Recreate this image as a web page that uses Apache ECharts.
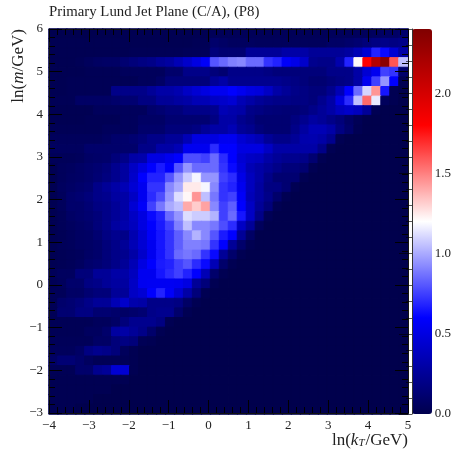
<!DOCTYPE html>
<html><head><meta charset="utf-8">
<script src="https://cdn.jsdelivr.net/npm/echarts@6/dist/echarts.min.js"></script>
<style>html,body{margin:0;padding:0;background:#fff}#c{width:454px;height:449px}</style>
</head><body><div id="c"></div>
<script>
var titleText = "Primary Lund Jet Plane (C/A), (P8)";
var xTicks = [-4,-3,-2,-1,0,1,2,3,4,5];
var yTicks = [-3,-2,-1,0,1,2,3,4,5,6];
var nBins = 40;
// density per bin, top row (ln m = 6) first, left column (ln kT = -4) first; bins past a row's end are empty
var rows = [
[.01,.01,.01,.01,.01,.01,.01,.01,.02,.02,.02,.02,.02,.02,.02,.02,.02,.02,.04,.04,.04,.04,.04,.04,.04,.04,.04,.04,.04,.04,.04,.05,.05,.05,.05,.05,.06,.08,.08,.1],
[.02,.02,.02,.02,.02,.02,.02,.02,.02,.02,.02,.02,.02,.02,.02,.02,.03,.03,.1,.08,.06,.06,.06,.05,.05,.05,.05,.05,.05,.05,.05,.08,.08,.1,.12,.15,.18,.2,.18,.2],
[.02,.02,.02,.02,.02,.02,.02,.02,.02,.03,.03,.03,.03,.03,.03,.04,.04,.04,.15,.12,.12,.12,.25,.25,.25,.25,.3,.3,.3,.25,.25,.25,.25,.28,.35,.45,.68,.62,.45,.3],
[.02,.02,.02,.03,.05,.07,.08,.08,.12,.15,.18,.2,.25,.28,.35,.42,.5,.58,.8,.85,.9,.92,.85,.85,.72,.68,.58,.52,.42,.22,.2,.2,.32,.68,1.22,1.8,2.15,2.35,1.6,1.05],
[.02,.02,.02,.02,.03,.03,.03,.03,.05,.05,.05,.05,.05,.1,.1,.2,.2,.2,.15,.12,.2,.2,.2,.2,.18,.15,.15,.15,.15,.15,.15,.2,.2,.2,.3,.45,.55,.75,.72,.1],
[.02,.02,.03,.03,.03,.03,.03,.03,.03,.03,.05,.05,.08,.15,.15,.15,.15,.15,.25,.3,.22,.22,.22,.22,.22,.22,.2,.18,.15,.12,.12,.15,.18,.2,.3,.55,.75,.95,.6,.02],
[.02,.02,.03,.03,.03,.03,.03,.2,.2,.2,.2,.25,.3,.3,.33,.4,.45,.5,.55,.55,.6,.55,.5,.48,.4,.3,.25,.2,.18,.15,.15,.22,.35,.6,.85,1.1,1.45,.65,.02],
[.03,.03,.03,.08,.08,.08,.08,.1,.12,.12,.18,.18,.25,.25,.28,.3,.35,.35,.4,.42,.45,.35,.3,.25,.22,.2,.2,.18,.18,.15,.22,.3,.5,.7,1.05,1.55,1.15,.05,.02],
[.02,.02,.02,.02,.02,.05,.05,.05,.05,.05,.05,.1,.12,.15,.15,.2,.2,.2,.22,.35,.32,.3,.2,.18,.15,.14,.13,.13,.15,.2,.25,.3,.38,.42,.38,.25,.02],
[.02,.02,.02,.02,.03,.03,.03,.03,.05,.05,.08,.08,.08,.12,.12,.12,.12,.12,.18,.3,.3,.22,.18,.12,.12,.12,.12,.17,.22,.28,.25,.2,.15,.08,.03],
[.03,.03,.03,.03,.03,.03,.05,.05,.05,.05,.1,.1,.1,.15,.15,.15,.18,.25,.3,.3,.35,.25,.22,.15,.12,.12,.12,.2,.28,.35,.35,.3,.18,.1,.02],
[.05,.05,.05,.05,.05,.05,.07,.1,.1,.12,.15,.2,.2,.25,.25,.35,.5,.5,.5,.55,.55,.45,.4,.35,.25,.2,.2,.25,.32,.33,.3,.22,.02],
[.06,.06,.06,.06,.1,.1,.1,.1,.1,.1,.2,.2,.3,.3,.35,.55,.55,.55,.7,.6,.6,.5,.5,.5,.4,.3,.3,.3,.3,.3,.2,.02],
[.04,.04,.04,.05,.08,.09,.1,.15,.2,.3,.32,.5,.5,.55,.6,.78,.78,.75,.85,.7,.6,.45,.4,.38,.3,.25,.22,.22,.2,.12,.02],
[.02,.05,.06,.08,.1,.12,.15,.22,.28,.4,.5,.6,.66,.6,.8,.95,.85,.85,.85,.72,.62,.48,.35,.3,.25,.2,.15,.15,.12,.02],
[.02,.05,.07,.08,.1,.13,.17,.22,.28,.42,.6,.68,.68,.8,.95,1.08,1.18,.95,.95,.75,.7,.52,.38,.3,.2,.12,.12,.12,.02],
[.02,.06,.08,.1,.12,.2,.25,.3,.35,.45,.55,.72,.72,.92,1.0,1.25,1.25,1.18,.92,.72,.68,.55,.38,.28,.18,.18,.12,.02],
[.02,.05,.1,.12,.15,.2,.22,.28,.3,.4,.55,.7,.78,.95,1.12,1.22,1.45,1.05,.88,.72,.75,.58,.36,.28,.2,.1,.02],
[.02,.05,.1,.1,.13,.18,.2,.25,.3,.45,.58,.75,.88,1.0,1.05,1.4,1.32,1.42,.92,.75,.82,.6,.4,.25,.15,.02],
[.02,.04,.08,.1,.12,.15,.2,.25,.3,.4,.5,.62,.68,.85,.95,1.12,1.08,1.08,1.02,.75,.85,.65,.4,.2,.03],
[.02,.04,.06,.08,.1,.15,.2,.28,.32,.38,.5,.6,.66,.75,.9,1.05,.92,.92,.88,.78,.7,.4,.25,.05],
[.02,.03,.05,.07,.08,.12,.18,.22,.2,.33,.45,.58,.65,.72,.82,.92,1.02,.92,.8,.66,.6,.25,.08],
[.02,.04,.05,.07,.08,.1,.15,.2,.25,.35,.45,.55,.65,.72,.82,.9,.9,.88,.72,.6,.25,.1,.02],
[.02,.03,.04,.05,.08,.1,.15,.2,.22,.3,.42,.55,.65,.72,.85,.88,.85,.72,.62,.25,.1,.02],
[.02,.03,.04,.06,.1,.12,.15,.2,.25,.35,.5,.6,.66,.68,.75,.8,.7,.62,.35,.1,.02],
[.04,.06,.06,.15,.15,.25,.25,.3,.3,.38,.55,.55,.65,.7,.75,.68,.6,.35,.1,.02],
[.03,.05,.1,.1,.18,.2,.25,.28,.28,.4,.55,.56,.56,.56,.55,.5,.25,.15,.02],
[.04,.04,.08,.08,.12,.15,.15,.25,.25,.4,.45,.6,.68,.58,.45,.3,.15,.02],
[.03,.1,.12,.15,.2,.25,.25,.35,.42,.32,.3,.2,.2,.2,.18,.08,.02],
[.03,.12,.12,.18,.18,.12,.12,.1,.08,.1,.12,.2,.22,.22,.1,.02],
[.03,.03,.03,.03,.03,.05,.05,.08,.15,.22,.22,.22,.18,.02],
[.03,.03,.03,.03,.06,.06,.1,.28,.3,.25,.2,.1,.02],
[.04,.04,.04,.04,.04,.08,.08,.15,.18,.15,.03,.02],
[.05,.05,.05,.08,.18,.22,.2,.15,.05,.02],
[.08,.13,.13,.1,.06,.03,.03,.03,.03,.02],
[.03,.03,.03,.1,.1,.22,.25,.45,.45,.02],
[.02,.02,.02,.02,.02,.02,.02,.02,.02],
[.02,.02,.02,.02,.02,.02,.02],
[.02,.02,.02,.02,.02],
[.02,.02,.02]
];
var seismic = ['#00004d','#0000ff','#ffffff','#ff0000','#800000'];
var vMax = 2.4;
var serif = '"Liberation Serif","DejaVu Serif",serif';
var ink = '#222';
var G = {left:49, top:29, width:359, height:385};

// Seam-free cells: each cell's border takes the colour the colour scale gives its value
var lerp = echarts.color.lerp;
var bins = [];
for (var i=0;i<nBins;i++) bins.push(String(i));
var cells = [];
rows.forEach(function(r,j){
  for (var i=0;i<nBins;i++){
    var v = r[i]===undefined?0:r[i];
    cells.push({value:[i, nBins-1-j, v], itemStyle:{borderWidth:1,borderColor:lerp(Math.min(v/vMax,1),seismic)}});
  }
});
function fmt(v){ return String(v).replace('-','\u2212'); }
function valAxis(pos, ticks, labelled, extra){
  var o = {
    type:'value', position:pos, min:ticks[0], max:ticks[ticks.length-1], interval:1,
    gridIndex:1, z:5, silent:true,
    splitLine:{show:false},
    axisLine:{show:true,onZero:false,lineStyle:{color:'#111',width:1}},
    axisTick:{show:true,inside:true,length:13,lineStyle:{color:'#000',width:1}},
    minorTick:{show:true,splitNumber:5,length:6,lineStyle:{color:'#000',width:1}},
    axisLabel:{show:labelled,formatter:fmt,fontFamily:serif,fontSize:13,color:ink,margin:6,hideOverlap:false}
  };
  for (var k in extra) o[k]=extra[k];
  return o;
}
var chart = echarts.init(document.getElementById('c'),null,{renderer:'canvas'});
chart.setOption({
  animation:false,
  backgroundColor:'#fff',
  title:{text:titleText,left:49,top:5,padding:0,textStyle:{fontFamily:serif,fontSize:14.8,fontWeight:'normal',color:ink}},
  grid:[
    Object.assign({show:false},G),
    Object.assign({show:false},G),
    {show:false,left:412,top:29,width:20,height:385}
  ],
  xAxis:[
    {type:'category',data:bins,gridIndex:0,show:false},
    valAxis('bottom',xTicks,true,{
      name:'{n|ln(}{i|k}{s|T}{n|/GeV)}',nameLocation:'end',nameGap:0,
      nameTextStyle:{align:'right',verticalAlign:'top',padding:[19,0,0,0],rich:{
        n:{fontFamily:serif,fontSize:17,color:ink},
        i:{fontFamily:serif,fontSize:17,fontStyle:'italic',color:ink},
        s:{fontFamily:serif,fontSize:11,fontStyle:'italic',color:ink,verticalAlign:'bottom',padding:[6,1,0,0]}
      }}
    }),
    valAxis('top',xTicks,false),
    {type:'value',gridIndex:2,min:0,max:1,show:false}
  ],
  yAxis:[
    {type:'category',data:bins,gridIndex:0,show:false},
    valAxis('left',yTicks,true,{
      name:'{n|ln(}{i|m}{n|/GeV)}',nameLocation:'end',nameGap:0,nameRotate:90,
      nameTextStyle:{align:'right',verticalAlign:'bottom',padding:[0,0,22,0],rich:{
        n:{fontFamily:serif,fontSize:17,color:ink},
        i:{fontFamily:serif,fontSize:17,fontStyle:'italic',color:ink}
      }}
    }),
    valAxis('right',yTicks,false),
    {type:'value',gridIndex:2,position:'right',min:0,max:vMax,interval:.5,z:5,silent:true,
      splitLine:{show:false},
      axisLine:{show:true,lineStyle:{color:'#333'}},
      axisTick:{show:true,inside:true,length:13,lineStyle:{color:'rgba(0,0,0,.65)'}},
      minorTick:{show:true,splitNumber:5,length:6,lineStyle:{color:'rgba(0,0,0,.65)'}},
      axisLabel:{show:true,fontFamily:serif,fontSize:13,color:ink,margin:4,showMaxLabel:false,
        formatter:function(v){return v.toFixed(1);}}
    }
  ],
  visualMap:{
    type:'continuous',seriesIndex:0,min:0,max:vMax,dimension:2,calculable:false,show:true,
    left:412,top:29,itemWidth:20,itemHeight:385,padding:0,text:null,showLabel:false,
    hoverLink:false,realtime:false,
    textStyle:{fontSize:0},
    inRange:{color:seismic}
  },
  series:[{type:'heatmap',xAxisIndex:0,yAxisIndex:0,data:cells,z:1,silent:true,progressive:0,
    emphasis:{disabled:true}}]
});
</script></body></html>
